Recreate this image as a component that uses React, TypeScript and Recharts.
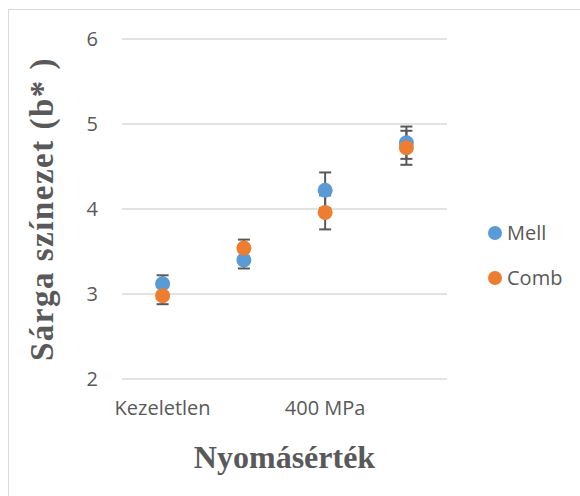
import React from "react";
import {
  LineChart,
  Line,
  XAxis,
  YAxis,
  CartesianGrid,
  ErrorBar,
  Label,
} from "recharts";

const categories = ["Kezeletlen", "200 MPa", "400 MPa", "600 MPa"];
const mell = [3.12, 3.4, 4.22, 4.78];
const mellErr = [0.1, 0.1, 0.21, 0.19];
const comb = [2.98, 3.54, 3.96, 4.72];
const combErr = [0.1, 0.1, 0.2, 0.2];
const yTicks = [2, 3, 4, 5, 6];

const BLUE = "#5b9bd5";
const ORANGE = "#ed7d31";
const TEXT = "#595959";
const TICK_FONT = "'Open Sans', sans-serif";
const TITLE_FONT = "'Liberation Serif', 'Times New Roman', serif";

const data = categories.map((name, i) => ({
  name,
  mell: mell[i],
  mellErr: mellErr[i],
  comb: comb[i],
  combErr: combErr[i],
}));

const legendItems = [
  { label: "Mell", color: BLUE },
  { label: "Comb", color: ORANGE },
];

// legend sits to the right of the plot, outside the chart's own layout
function SeriesLegend() {
  return (
    <div
      style={{
        position: "absolute",
        left: 487,
        top: 210,
        fontFamily: TICK_FONT,
        fontSize: 20,
        color: TEXT,
      }}
    >
      {legendItems.map((item) => (
        <div
          key={item.label}
          style={{ display: "flex", alignItems: "center", height: 45 }}
        >
          <svg width={16} height={16} style={{ marginRight: 4 }}>
            <circle cx={8} cy={8} r={7} fill={item.color} />
          </svg>
          <span>{item.label}</span>
        </div>
      ))}
    </div>
  );
}

export default function App() {
  return (
    <div
      style={{
        position: "fixed",
        left: 0,
        top: 0,
        width: 580,
        height: 496,
        overflow: "hidden",
        background: "#fff",
      }}
    >
      {/* chart frame, runs off the right and bottom edges */}
      <div
        style={{
          position: "absolute",
          left: 8,
          top: 9,
          width: 640,
          height: 560,
          border: "1px solid #d9d9d9",
        }}
      />
      <div style={{ position: "absolute", left: 0, top: 0 }}>
        <LineChart
          width={580}
          height={496}
          data={data}
          margin={{ top: 39, right: 133, bottom: 22, left: 0 }}
        >
          <CartesianGrid
            vertical={false}
            stroke="#d9d9d9"
            strokeWidth={1.5}
          />
          <XAxis
            dataKey="name"
            interval={1}
            axisLine={false}
            tickLine={false}
            tickSize={0}
            tickMargin={22}
            height={95}
            padding={{ left: 40.6, right: 40.6 }}
            tick={{ fill: TEXT, fontSize: 20, fontFamily: TICK_FONT }}
          >
            <Label
              value="Nyomásérték"
              position="insideBottom"
              offset={6}
              style={{
                fontFamily: TITLE_FONT,
                fontSize: 32,
                fontWeight: "bold",
                fill: TEXT,
              }}
            />
          </XAxis>
          <YAxis
            domain={[2, 6]}
            ticks={yTicks}
            width={122}
            axisLine={false}
            tickLine={false}
            tickSize={0}
            tickMargin={24}
            tick={{ fill: TEXT, fontSize: 20, fontFamily: TICK_FONT }}
          >
            <Label
              value="Sárga színezet (b* )"
              angle={-90}
              position="insideLeft"
              offset={41}
              style={{
                fontFamily: TITLE_FONT,
                fontSize: 33,
                letterSpacing: 1.5,
                fontWeight: "bold",
                fill: TEXT,
                textAnchor: "middle",
              }}
            />
          </YAxis>
          <Line
            dataKey="mell"
            name="Mell"
            stroke="none"
            isAnimationActive={false}
            dot={{ r: 7.5, fill: BLUE, stroke: "none" }}
            activeDot={false}
          >
            <ErrorBar
              dataKey="mellErr"
              width={6}
              stroke="#595959"
              strokeWidth={2}
            />
          </Line>
          <Line
            dataKey="comb"
            name="Comb"
            stroke="none"
            isAnimationActive={false}
            dot={{ r: 7.5, fill: ORANGE, stroke: "none" }}
            activeDot={false}
          >
            <ErrorBar
              dataKey="combErr"
              width={6}
              stroke="#595959"
              strokeWidth={2}
            />
          </Line>
        </LineChart>
      </div>
      <SeriesLegend />
    </div>
  );
}
